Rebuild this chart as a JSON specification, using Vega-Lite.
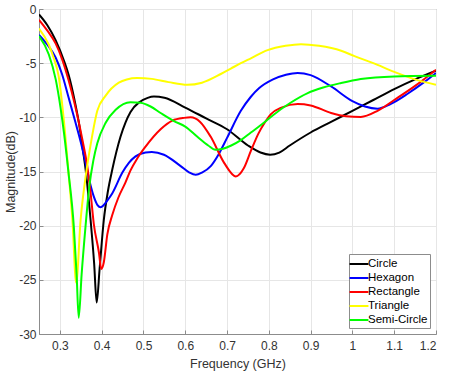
{
  "$schema": "https://vega.github.io/schema/vega-lite/v6.json",
  "autosize": {"type": "none"},
  "padding": {"left": 39, "top": 9, "right": 17, "bottom": 40},
  "width": 397,
  "height": 325,
  "background": "white",
  "config": {
    "font": "Liberation Sans",
    "view": {"stroke": "#8c8c8c", "strokeWidth": 1},
    "axis": {
      "grid": true,
      "gridColor": "#e6e6e6",
      "gridWidth": 1,
      "domainColor": "#8c8c8c",
      "tickColor": "#8c8c8c",
      "tickSize": -4,
      "labelColor": "#333333",
      "labelFontSize": 12,
      "titleColor": "#333333",
      "titleFontSize": 12.5,
      "titleFontWeight": "normal"
    }
  },
  "data": {
    "values": [
      {"s": "Circle", "f": 0.25, "m": -0.5},
      {"s": "Circle", "f": 0.27, "m": -1.5},
      {"s": "Circle", "f": 0.29, "m": -2.9},
      {"s": "Circle", "f": 0.31, "m": -4.8},
      {"s": "Circle", "f": 0.321, "m": -6.1},
      {"s": "Circle", "f": 0.335, "m": -8.4},
      {"s": "Circle", "f": 0.345, "m": -10.4},
      {"s": "Circle", "f": 0.355, "m": -13.0},
      {"s": "Circle", "f": 0.3615, "m": -14.8},
      {"s": "Circle", "f": 0.3735, "m": -19.5},
      {"s": "Circle", "f": 0.382, "m": -23.5},
      {"s": "Circle", "f": 0.388, "m": -27.1},
      {"s": "Circle", "f": 0.395, "m": -24.0},
      {"s": "Circle", "f": 0.405, "m": -19.5},
      {"s": "Circle", "f": 0.415, "m": -16.8},
      {"s": "Circle", "f": 0.4255, "m": -14.8},
      {"s": "Circle", "f": 0.445, "m": -11.8},
      {"s": "Circle", "f": 0.469, "m": -9.5},
      {"s": "Circle", "f": 0.49, "m": -8.6},
      {"s": "Circle", "f": 0.51, "m": -8.2},
      {"s": "Circle", "f": 0.525, "m": -8.08},
      {"s": "Circle", "f": 0.55, "m": -8.2},
      {"s": "Circle", "f": 0.6, "m": -9.1},
      {"s": "Circle", "f": 0.65, "m": -10.1},
      {"s": "Circle", "f": 0.7, "m": -11.1},
      {"s": "Circle", "f": 0.75, "m": -12.6},
      {"s": "Circle", "f": 0.78, "m": -13.25},
      {"s": "Circle", "f": 0.803, "m": -13.45},
      {"s": "Circle", "f": 0.825, "m": -13.25},
      {"s": "Circle", "f": 0.85, "m": -12.6},
      {"s": "Circle", "f": 0.9, "m": -11.4},
      {"s": "Circle", "f": 0.95, "m": -10.4},
      {"s": "Circle", "f": 1.0, "m": -9.4},
      {"s": "Circle", "f": 1.05, "m": -8.4},
      {"s": "Circle", "f": 1.1, "m": -7.4},
      {"s": "Circle", "f": 1.15, "m": -6.5},
      {"s": "Circle", "f": 1.2, "m": -5.7},

      {"s": "Hexagon", "f": 0.25, "m": -2.4},
      {"s": "Hexagon", "f": 0.27, "m": -3.3},
      {"s": "Hexagon", "f": 0.29, "m": -4.5},
      {"s": "Hexagon", "f": 0.305, "m": -6.0},
      {"s": "Hexagon", "f": 0.321, "m": -8.2},
      {"s": "Hexagon", "f": 0.3375, "m": -10.5},
      {"s": "Hexagon", "f": 0.35, "m": -12.3},
      {"s": "Hexagon", "f": 0.3615, "m": -14.2},
      {"s": "Hexagon", "f": 0.371, "m": -15.9},
      {"s": "Hexagon", "f": 0.381, "m": -17.3},
      {"s": "Hexagon", "f": 0.39, "m": -18.1},
      {"s": "Hexagon", "f": 0.3975, "m": -18.3},
      {"s": "Hexagon", "f": 0.405, "m": -18.1},
      {"s": "Hexagon", "f": 0.415, "m": -17.6},
      {"s": "Hexagon", "f": 0.4255, "m": -17.0},
      {"s": "Hexagon", "f": 0.4495, "m": -15.1},
      {"s": "Hexagon", "f": 0.465, "m": -14.2},
      {"s": "Hexagon", "f": 0.481, "m": -13.6},
      {"s": "Hexagon", "f": 0.505, "m": -13.25},
      {"s": "Hexagon", "f": 0.52, "m": -13.2},
      {"s": "Hexagon", "f": 0.549, "m": -13.45},
      {"s": "Hexagon", "f": 0.589, "m": -14.5},
      {"s": "Hexagon", "f": 0.61, "m": -15.1},
      {"s": "Hexagon", "f": 0.625, "m": -15.3},
      {"s": "Hexagon", "f": 0.64, "m": -15.1},
      {"s": "Hexagon", "f": 0.661, "m": -14.5},
      {"s": "Hexagon", "f": 0.68, "m": -13.4},
      {"s": "Hexagon", "f": 0.7, "m": -11.9},
      {"s": "Hexagon", "f": 0.733, "m": -9.4},
      {"s": "Hexagon", "f": 0.757, "m": -8.1},
      {"s": "Hexagon", "f": 0.777, "m": -7.3},
      {"s": "Hexagon", "f": 0.81, "m": -6.5},
      {"s": "Hexagon", "f": 0.841, "m": -6.07},
      {"s": "Hexagon", "f": 0.869, "m": -5.9},
      {"s": "Hexagon", "f": 0.9, "m": -6.1},
      {"s": "Hexagon", "f": 0.949, "m": -7.15},
      {"s": "Hexagon", "f": 1.0, "m": -8.5},
      {"s": "Hexagon", "f": 1.03, "m": -9.0},
      {"s": "Hexagon", "f": 1.06, "m": -9.2},
      {"s": "Hexagon", "f": 1.09, "m": -8.8},
      {"s": "Hexagon", "f": 1.133, "m": -7.8},
      {"s": "Hexagon", "f": 1.17, "m": -6.8},
      {"s": "Hexagon", "f": 1.2, "m": -5.9},

      {"s": "Rectangle", "f": 0.25, "m": -1.0},
      {"s": "Rectangle", "f": 0.27, "m": -2.0},
      {"s": "Rectangle", "f": 0.29, "m": -3.2},
      {"s": "Rectangle", "f": 0.305, "m": -4.6},
      {"s": "Rectangle", "f": 0.321, "m": -6.6},
      {"s": "Rectangle", "f": 0.335, "m": -8.7},
      {"s": "Rectangle", "f": 0.345, "m": -10.4},
      {"s": "Rectangle", "f": 0.355, "m": -12.3},
      {"s": "Rectangle", "f": 0.3655, "m": -14.5},
      {"s": "Rectangle", "f": 0.373, "m": -16.8},
      {"s": "Rectangle", "f": 0.381, "m": -19.8},
      {"s": "Rectangle", "f": 0.3935, "m": -22.5},
      {"s": "Rectangle", "f": 0.399, "m": -24.0},
      {"s": "Rectangle", "f": 0.405, "m": -23.4},
      {"s": "Rectangle", "f": 0.4135, "m": -20.8},
      {"s": "Rectangle", "f": 0.4255, "m": -19.0},
      {"s": "Rectangle", "f": 0.44, "m": -17.4},
      {"s": "Rectangle", "f": 0.457, "m": -16.0},
      {"s": "Rectangle", "f": 0.469, "m": -14.9},
      {"s": "Rectangle", "f": 0.485, "m": -13.8},
      {"s": "Rectangle", "f": 0.505, "m": -12.7},
      {"s": "Rectangle", "f": 0.541, "m": -11.1},
      {"s": "Rectangle", "f": 0.569, "m": -10.3},
      {"s": "Rectangle", "f": 0.597, "m": -10.05},
      {"s": "Rectangle", "f": 0.613, "m": -10.0},
      {"s": "Rectangle", "f": 0.635, "m": -10.4},
      {"s": "Rectangle", "f": 0.661, "m": -11.8},
      {"s": "Rectangle", "f": 0.693, "m": -14.2},
      {"s": "Rectangle", "f": 0.721, "m": -15.45},
      {"s": "Rectangle", "f": 0.74, "m": -14.7},
      {"s": "Rectangle", "f": 0.757, "m": -13.1},
      {"s": "Rectangle", "f": 0.775, "m": -11.5},
      {"s": "Rectangle", "f": 0.79, "m": -10.5},
      {"s": "Rectangle", "f": 0.805, "m": -9.7},
      {"s": "Rectangle", "f": 0.83, "m": -9.1},
      {"s": "Rectangle", "f": 0.869, "m": -8.77},
      {"s": "Rectangle", "f": 0.9, "m": -8.9},
      {"s": "Rectangle", "f": 0.949, "m": -9.6},
      {"s": "Rectangle", "f": 0.985, "m": -9.9},
      {"s": "Rectangle", "f": 1.02, "m": -9.97},
      {"s": "Rectangle", "f": 1.06, "m": -9.4},
      {"s": "Rectangle", "f": 1.1, "m": -8.4},
      {"s": "Rectangle", "f": 1.15, "m": -7.1},
      {"s": "Rectangle", "f": 1.2, "m": -5.6},

      {"s": "Triangle", "f": 0.25, "m": -1.8},
      {"s": "Triangle", "f": 0.2735, "m": -3.3},
      {"s": "Triangle", "f": 0.285, "m": -4.5},
      {"s": "Triangle", "f": 0.297, "m": -6.2},
      {"s": "Triangle", "f": 0.3095, "m": -10.3},
      {"s": "Triangle", "f": 0.32, "m": -14.8},
      {"s": "Triangle", "f": 0.33, "m": -19.5},
      {"s": "Triangle", "f": 0.339, "m": -25.3},
      {"s": "Triangle", "f": 0.3495, "m": -19.5},
      {"s": "Triangle", "f": 0.3615, "m": -15.5},
      {"s": "Triangle", "f": 0.375, "m": -12.2},
      {"s": "Triangle", "f": 0.3895, "m": -9.4},
      {"s": "Triangle", "f": 0.4095, "m": -8.0},
      {"s": "Triangle", "f": 0.441, "m": -6.8},
      {"s": "Triangle", "f": 0.46, "m": -6.5},
      {"s": "Triangle", "f": 0.485, "m": -6.37},
      {"s": "Triangle", "f": 0.52, "m": -6.45},
      {"s": "Triangle", "f": 0.56, "m": -6.75},
      {"s": "Triangle", "f": 0.605, "m": -7.0},
      {"s": "Triangle", "f": 0.64, "m": -6.8},
      {"s": "Triangle", "f": 0.685, "m": -6.0},
      {"s": "Triangle", "f": 0.709, "m": -5.5},
      {"s": "Triangle", "f": 0.733, "m": -5.0},
      {"s": "Triangle", "f": 0.757, "m": -4.55},
      {"s": "Triangle", "f": 0.797, "m": -3.8},
      {"s": "Triangle", "f": 0.84, "m": -3.4},
      {"s": "Triangle", "f": 0.877, "m": -3.25},
      {"s": "Triangle", "f": 0.92, "m": -3.4},
      {"s": "Triangle", "f": 0.973, "m": -3.85},
      {"s": "Triangle", "f": 1.005, "m": -4.35},
      {"s": "Triangle", "f": 1.05, "m": -5.0},
      {"s": "Triangle", "f": 1.1, "m": -5.8},
      {"s": "Triangle", "f": 1.15, "m": -6.5},
      {"s": "Triangle", "f": 1.2, "m": -7.0},

      {"s": "Semi-Circle", "f": 0.25, "m": -2.5},
      {"s": "Semi-Circle", "f": 0.2735, "m": -4.2},
      {"s": "Semi-Circle", "f": 0.29, "m": -6.5},
      {"s": "Semi-Circle", "f": 0.3015, "m": -9.1},
      {"s": "Semi-Circle", "f": 0.31, "m": -11.5},
      {"s": "Semi-Circle", "f": 0.32, "m": -14.9},
      {"s": "Semi-Circle", "f": 0.3335, "m": -20.2},
      {"s": "Semi-Circle", "f": 0.34, "m": -24.5},
      {"s": "Semi-Circle", "f": 0.345, "m": -28.5},
      {"s": "Semi-Circle", "f": 0.352, "m": -24.5},
      {"s": "Semi-Circle", "f": 0.3615, "m": -20.0},
      {"s": "Semi-Circle", "f": 0.37, "m": -16.5},
      {"s": "Semi-Circle", "f": 0.38, "m": -14.0},
      {"s": "Semi-Circle", "f": 0.3895, "m": -12.4},
      {"s": "Semi-Circle", "f": 0.4095, "m": -10.5},
      {"s": "Semi-Circle", "f": 0.4335, "m": -9.3},
      {"s": "Semi-Circle", "f": 0.469, "m": -8.6},
      {"s": "Semi-Circle", "f": 0.493, "m": -8.65},
      {"s": "Semi-Circle", "f": 0.517, "m": -9.0},
      {"s": "Semi-Circle", "f": 0.541, "m": -9.6},
      {"s": "Semi-Circle", "f": 0.573, "m": -10.35},
      {"s": "Semi-Circle", "f": 0.6, "m": -10.85},
      {"s": "Semi-Circle", "f": 0.629, "m": -11.8},
      {"s": "Semi-Circle", "f": 0.655, "m": -12.6},
      {"s": "Semi-Circle", "f": 0.672, "m": -13.0},
      {"s": "Semi-Circle", "f": 0.69, "m": -12.9},
      {"s": "Semi-Circle", "f": 0.71, "m": -12.6},
      {"s": "Semi-Circle", "f": 0.733, "m": -12.1},
      {"s": "Semi-Circle", "f": 0.757, "m": -11.4},
      {"s": "Semi-Circle", "f": 0.785, "m": -10.6},
      {"s": "Semi-Circle", "f": 0.81, "m": -9.8},
      {"s": "Semi-Circle", "f": 0.85, "m": -8.7},
      {"s": "Semi-Circle", "f": 0.893, "m": -7.76},
      {"s": "Semi-Circle", "f": 0.93, "m": -7.25},
      {"s": "Semi-Circle", "f": 0.973, "m": -6.83},
      {"s": "Semi-Circle", "f": 1.02, "m": -6.46},
      {"s": "Semi-Circle", "f": 1.1, "m": -6.22},
      {"s": "Semi-Circle", "f": 1.2, "m": -6.16}
    ]
  },
  "mark": {"type": "line", "strokeWidth": 2, "interpolate": "monotone", "clip": true},
  "encoding": {
    "x": {
      "field": "f", "type": "quantitative",
      "scale": {"domain": [0.25, 1.2], "nice": false, "zero": false},
      "axis": {"title": "Frequency (GHz)", "values": [0.3, 0.4, 0.5, 0.6, 0.7, 0.8, 0.9, 1, 1.1, 1.2], "format": ".1~f", "labelPadding": 10, "titlePadding": 6}
    },
    "y": {
      "field": "m", "type": "quantitative",
      "scale": {"domain": [-30, 0], "nice": false, "zero": false},
      "axis": {"title": "Magnitude(dB)", "values": [0, -5, -10, -15, -20, -25, -30], "labelExpr": "'' + datum.value", "labelPadding": 7, "titlePadding": 1}
    },
    "color": {
      "field": "s", "type": "nominal",
      "scale": {
        "domain": ["Circle", "Hexagon", "Rectangle", "Triangle", "Semi-Circle"],
        "range": ["#000000", "#0000ff", "#ff0000", "#ffff00", "#00ff00"]
      },
      "legend": {
        "title": null,
        "orient": "bottom-right",
        "offset": 6,
        "symbolType": "M-1.35,0H1.35",
        "symbolSize": 196,
        "symbolStrokeWidth": 2,
        "labelFontSize": 11.5,
        "labelColor": "#000000",
        "labelOffset": 1,
        "rowPadding": 0,
        "padding": 2,
        "strokeColor": "#8c8c8c",
        "fillColor": "white",
        "cornerRadius": 0
      }
    },
    "order": {"field": "f", "type": "quantitative"}
  }
}
